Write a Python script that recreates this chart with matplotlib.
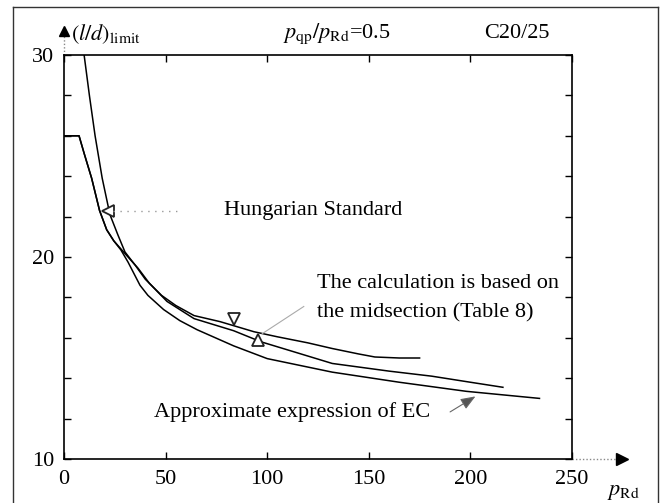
import matplotlib

matplotlib.use("Agg")

import matplotlib.pyplot as plt
from matplotlib.lines import Line2D

plt.rcParams["font.family"] = ["Liberation Serif", "DejaVu Serif"]
plt.rcParams["mathtext.fontset"] = "stix"

# curves: p_Rd vs (l/d)_limit
hs_x = [9.9, 12.5, 15.3, 18.8, 22.6, 26.5, 30, 35, 40, 48, 55, 64, 76.8,
        83.5, 93.5, 105, 120, 132, 145, 153, 165, 175]
hs_y = [30.0, 28.0, 26.0, 23.9, 22.1, 21.1, 20.25, 19.6, 18.9, 18.1, 17.6,
        17.1, 16.8, 16.6, 16.3, 16.05, 15.75, 15.47, 15.2, 15.05, 15.0, 15.0]

calc_x = [0, 7.4, 10, 13.6, 17.5, 21.0, 24.5, 28.0, 31.5, 36.4, 42, 50.7, 64,
          83.5, 97, 115, 132, 160, 181, 200, 216]
calc_y = [26, 26, 25.1, 23.9, 22.3, 21.35, 20.8, 20.4, 20.0, 19.45, 18.7,
          17.8, 16.95, 16.35, 15.8, 15.25, 14.73, 14.35, 14.1, 13.8, 13.55]

ec_x = [0, 7.4, 10, 13.6, 17.5, 21.0, 24.5, 28.0, 31.5, 37.4, 41.3, 49, 57,
        65.5, 83.5, 100, 132, 165, 198, 234]
ec_y = [26, 26, 25.1, 23.9, 22.3, 21.35, 20.8, 20.35, 19.75, 18.6, 18.1,
        17.4, 16.85, 16.4, 15.6, 14.97, 14.3, 13.8, 13.35, 13.0]

# marker points on the curves
hs_mark = (21.7, 22.3)
calc_marks_down = (83.5, 16.95)
calc_marks_up = (95.4, 15.9)
ec_mark = (202.5, 13.1)

x_ticks = [0, 50, 100, 150, 200, 250]
y_ticks = [10, 20, 30]
y_minor = [12, 14, 16, 18, 22, 24, 26, 28]

fig = plt.figure(figsize=(6.62, 5.03), dpi=100)

# outer frame (left, top, right)
fx0, fx1, fy1 = 13 / 662, 658 / 662, 1 - 7 / 503
for xs, ys in [([fx0, fx0], [0, fy1]), ([fx0, fx1], [fy1, fy1]),
               ([fx1, fx1], [fy1, 0])]:
    fig.add_artist(Line2D(xs, ys, color="#333333", lw=1.0))

ax = fig.add_axes([64 / 662, 1 - 459 / 503, 508 / 662, 404 / 503])

ax.plot(hs_x, hs_y, color="black", lw=1.1)
ax.plot(calc_x, calc_y, color="black", lw=1.1)
ax.plot(ec_x, ec_y, color="black", lw=1.1)

ax.set_xlim(0, 250)
ax.set_ylim(10, 30)
ax.set_xticks(x_ticks)
ax.set_yticks(y_ticks)
ax.set_yticks(y_minor, minor=True)
for s in ax.spines.values():
    s.set_linewidth(1.2)
ax.tick_params(which="both", direction="in", top=True, right=True,
               length=5, width=1, labelsize=16)
ax.tick_params(axis="x", pad=8)
ax.tick_params(axis="y", pad=7)

# markers
ax.plot(*hs_mark, marker="<", ms=8, mfc="white", mec="#222222", mew=1.3)
ax.plot(*calc_marks_down, marker="v", ms=8, mfc="white", mec="#222222", mew=1.3)
ax.plot(*calc_marks_up, marker="^", ms=8, mfc="white", mec="#222222", mew=1.3)

# leader lines
ax.plot([24, 56], [22.3, 22.3], color="#999999", lw=1, ls=(0, (1, 4)))
ax.plot([118, 97.5], [17.55, 16.2], color="#aaaaaa", lw=0.8)
ax.annotate("", xy=ec_mark, xytext=(190, 12.33),
            arrowprops=dict(arrowstyle="-|>,head_length=0.9,head_width=0.35",
                            fc="#555555", ec="#666666", lw=0.8,
                            shrinkA=0, shrinkB=0))

# labels in the plot
ax.text(78.5, 22.28, "Hungarian Standard", fontsize=16, va="center")
ax.text(124.5, 18.7, "The calculation is based on", fontsize=16, va="center")
ax.text(124.5, 17.23, "the midsection (Table 8)", fontsize=16, va="center")
ax.text(44.3, 12.33, "Approximate expression of EC", fontsize=16, va="center")

# header texts
ax.text(3.2, 31.05, r"$(l/d)_{\rm limit}$", fontsize=16, va="center",
        clip_on=False)
ax.text(107.8, 31.05, r"$p_{\rm qp}/p_{\rm Rd}$=0.5", fontsize=16, va="center",
        clip_on=False)
ax.text(207, 31.05, "C20/25", fontsize=16, va="center", clip_on=False)

# axis arrows
ax.plot([0, 0], [30, 31.0], color="#888888", lw=1, ls=(0, (1, 1.5)),
        clip_on=False)
ax.plot(0, 31.2, marker="^", ms=7, color="black", clip_on=False)
ax.plot([250, 273], [10, 10], color="#888888", lw=1, ls=(0, (1, 1.5)),
        clip_on=False)
ax.plot(274.5, 10, marker=">", ms=8, color="black", clip_on=False)
ax.text(267, 8.32, r"$p_{\rm Rd}$", fontsize=16, va="center", clip_on=False)

fig.savefig("out.png", dpi=100)
